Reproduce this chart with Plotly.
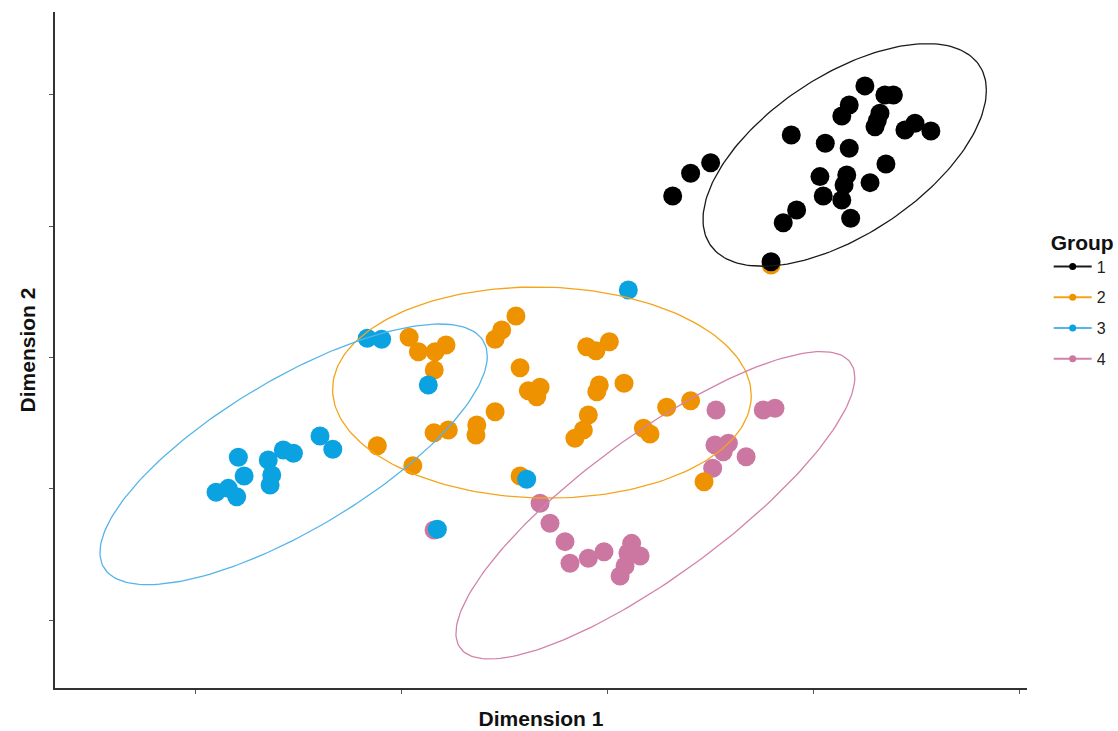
import numpy as np
import plotly.graph_objects as go

groups = ["1", "2", "3", "4"]
point_colors = {"1": "#000000", "2": "#EE9200", "3": "#0AA2E0", "4": "#CC77A1"}
line_colors = {"1": "#1a1a1a", "2": "#F5A41A", "3": "#55B4E9", "4": "#D283AB"}

g1_x = [0.316, 0.403, 0.500, 0.891, 1.056, 1.172, 1.248, 1.345, 1.386, 1.172, 1.136, 1.321, 1.308, 1.297,
        1.442, 1.491, 1.568, 1.350, 1.273, 1.030, 1.160, 1.147, 1.046, 1.136, 1.179, 0.917, 0.852, 0.793]
g1_y = [1.230, 1.403, 1.484, 1.695, 1.632, 1.594, 2.069, 2.000, 2.000, 1.924, 1.840, 1.861, 1.804, 1.758,
        1.733, 1.784, 1.726, 1.474, 1.332, 1.378, 1.390, 1.314, 1.230, 1.200, 1.061, 1.124, 1.027, 0.730]

g2_x = [-0.444, -0.513, -0.545, -0.962, -0.917, -0.836, -0.783, -0.840, -0.424, -0.384, -0.327, -0.343,
        -0.101, -0.056, 0.009, -0.040, -0.052, 0.080, -0.093, -0.117, -0.158, -0.545, -0.634, -0.638,
        -0.841, -0.772, -1.116, -0.944, -0.424, 0.287, 0.403, 0.174, 0.206, 0.468, 0.793]
g2_y = [0.316, 0.210, 0.139, 0.154, 0.044, 0.044, 0.095, -0.095, -0.078, -0.253, -0.227, -0.299,
        0.082, 0.052, 0.120, -0.210, -0.261, -0.197, -0.438, -0.552, -0.616, -0.413, -0.514, -0.590,
        -0.573, -0.552, -0.672, -0.824, -0.903, -0.379, -0.329, -0.539, -0.583, -0.946, 0.705]

g3_x = [-1.165, -1.095, -0.869, -1.790, -1.762, -1.898, -1.839, -1.798, -1.645, -1.628, -1.636, -1.572,
        -1.523, -1.394, -1.332, -0.825, 0.101, -0.392]
g3_y = [0.146, 0.139, -0.210, -0.760, -0.903, -1.027, -0.997, -1.061, -0.781, -0.895, -0.971, -0.705,
        -0.730, -0.598, -0.699, -1.309, 0.514, -0.928]

g4_x = [0.526, 0.755, 0.812, 0.521, 0.586, 0.561, 0.672, 0.510, -0.327, -0.279, -0.206, -0.182, -0.093,
        -0.017, 0.117, 0.099, 0.158, 0.085, 0.061, -0.841]
g4_y = [-0.400, -0.400, -0.387, -0.667, -0.654, -0.718, -0.756, -0.844, -1.111, -1.263, -1.403, -1.568,
        -1.530, -1.480, -1.416, -1.490, -1.512, -1.589, -1.665, -1.314]

# ellipse parameters: centre, half-extent in x, half-extent in y, correlation
ell_cx = [1.150, -0.318, -1.522, 0.232]
ell_cy = [1.543, -0.267, -0.738, -1.126]
ell_wx = [0.687, 1.015, 0.939, 0.967]
ell_hy = [0.848, 0.804, 0.993, 1.171]
ell_r = [0.580, -0.030, 0.753, 0.832]

tick_vals = [-2, -1, 0, 1, 2]

pts = {"1": (g1_x, g1_y), "2": (g2_x, g2_y), "3": (g3_x, g3_y), "4": (g4_x, g4_y)}

fig = go.Figure()

# points (draw order as in the picture)
for g in ["4", "2", "3", "1"]:
    x, y = pts[g]
    fig.add_trace(go.Scatter(x=x, y=y, mode="markers", showlegend=False, hoverinfo="skip",
                             marker=dict(size=19, color=point_colors[g], line=dict(width=0))))

# ellipses
t = np.linspace(0, 2 * np.pi, 200)
for i, g in enumerate(groups):
    r = ell_r[i]
    ex = ell_cx[i] + ell_wx[i] * np.cos(t)
    ey = ell_cy[i] + ell_hy[i] * (r * np.cos(t) + np.sqrt(1 - r * r) * np.sin(t))
    fig.add_trace(go.Scatter(x=ex, y=ey, mode="lines", showlegend=False, hoverinfo="skip",
                             line=dict(color=line_colors[g], width=1.3)))

# legend entries
for i, g in enumerate(groups):
    fig.add_trace(go.Scatter(x=[None], y=[None], mode="lines+markers", name=g, legendgroup=g,
                             legendrank=i + 1,
                             marker=dict(size=7, color=point_colors[g]),
                             line=dict(color=line_colors[g], width=2)))

axis_common = dict(showgrid=False, zeroline=False, showticklabels=False, ticks="outside",
                   ticklen=4, tickwidth=1.2, tickcolor="#555555", tickvals=tick_vals,
                   showline=True, linecolor="#333333", linewidth=1.5, automargin=False)

fig.update_layout(
    width=1118, height=731,
    margin=dict(l=55, r=91, t=12, b=43, autoexpand=False),
    paper_bgcolor="white", plot_bgcolor="white",
    xaxis=dict(range=[-2.679, 2.034], **axis_common,
               title=dict(text="<b>Dimension 1</b>", standoff=19,
                          font=dict(family="Liberation Sans, Arial", size=21, color="#111"))),
    yaxis=dict(range=[-2.518, 2.632], **axis_common,
               title=dict(text="<b>Dimension 2</b>", standoff=8,
                          font=dict(family="Liberation Sans, Arial", size=21, color="#111"))),
    legend=dict(title=dict(text="<b>Group</b>", font=dict(family="Liberation Sans, Arial", size=21, color="#111")),
                font=dict(family="Liberation Sans, Arial", size=16, color="#222"),
                xref="container", yref="container", itemwidth=38,
                x=0.938, xanchor="left", y=0.696, yanchor="top", tracegroupgap=7,
                bgcolor="rgba(0,0,0,0)"),
    font=dict(family="Liberation Sans, Arial"),
)

fig.write_html("out.html")
